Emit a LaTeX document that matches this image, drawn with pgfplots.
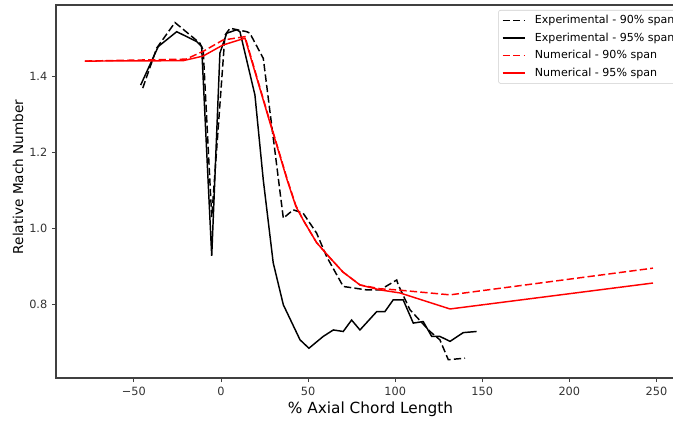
\documentclass[border=0pt]{standalone}
\usepackage{fontspec}
\setmainfont{DejaVu Sans}
\usepackage{pgfplots}
\pgfplotsset{compat=1.18}
\begin{document}
\begin{tikzpicture}[x=1pt,y=1pt]
\useasboundingbox (-42,-32.25) rectangle (462.75,283.5);
\clip (-42,-32.25) rectangle (462.75,283.5);
\begin{axis}[
 at={(0,0)}, anchor=south west,
 scale only axis, width=471.75pt, height=279.75pt,
 xmin=-94.7, xmax=266.4, ymin=0.608, ymax=1.586,
 axis line style={black!75, line width=0.8pt},
 tick align=outside, xtick pos=bottom, ytick pos=left,
 major tick length=3pt,
 tick style={black!75, line width=0.6pt},
 xtick={-50,0,50,100,150,200,250},
 xticklabels={−50,0,50,100,150,200,250},
 ytick={0.8,1.0,1.2,1.4},
 yticklabels={0.8,1.0,1.2,1.4},
 ticklabel style={font=\fontsize{8.5}{10}\selectfont, text=black!80},
 xlabel={\% Axial Chord Length},
 ylabel={Relative Mach Number},
 xlabel style={font=\fontsize{11.5}{13}\selectfont, at={(axis description cs:0.5,0)}, anchor=center, yshift=-23.25pt},
 ylabel style={font=\fontsize{10.2}{12}\selectfont, at={(axis description cs:-0.0604,0.539)}, anchor=center},
 legend style={at={(1,1)}, anchor=north east, xshift=-4pt, yshift=-3.75pt,
   font=\fontsize{8.3}{9.5}\selectfont, draw=black!20, rounded corners=1.5pt,
   inner xsep=2.5pt, inner ysep=2.5pt, row sep=3pt, column sep=6pt,
   nodes={inner sep=1.2pt}},
 legend cell align=left,
 legend image code/.code={\draw[#1] (0pt,0pt) -- (16.5pt,0pt);},
]
% Experimental 90% span
\addplot[black, line width=1.1pt, dash pattern=on 5.5pt off 2.4pt] coordinates {
(-44.9,1.368) (-36.9,1.473) (-26.4,1.540) (-12.1,1.486) (-10.2,1.468) (-5.3,1.030)
(2.3,1.507) (5.2,1.525) (14.8,1.516) (16.6,1.512) (24.3,1.446) (35.8,1.027)
(41.5,1.049) (47.2,1.040) (54.9,0.988) (60.7,0.926) (70.2,0.848) (83.6,0.839)
(91.3,0.839) (100.9,0.865) (101.8,0.852) (108.5,0.787) (120,0.730) (125.7,0.708)
(130.5,0.656) (140.1,0.660)
};
\addlegendentry{Experimental - 90\% span}
% Experimental 95% span
\addplot[black, line width=1.1pt] coordinates {
(-46.1,1.376) (-36.0,1.477) (-25.4,1.516) (-13.9,1.490) (-11.1,1.477) (-5.3,0.928)
(-0.6,1.460) (3.3,1.512) (9.0,1.521) (10.9,1.516) (19.5,1.350) (24.3,1.127)
(30.0,0.910) (35.8,0.800) (45.4,0.708) (50.5,0.686) (58.7,0.717) (64.5,0.734)
(70.2,0.730) (75.0,0.760) (79.8,0.734) (89.4,0.782) (94.1,0.782) (98.9,0.813)
(104.6,0.813) (110.4,0.752) (116.1,0.756) (121.0,0.717) (125.7,0.717) (131.5,0.704)
(139.1,0.727) (146.8,0.730)
};
\addlegendentry{Experimental - 95\% span}
% Numerical 90% span
\addplot[red, line width=1.1pt, dash pattern=on 5.5pt off 2.4pt] coordinates {
(-78.1,1.439) (-20.1,1.444) (-10.0,1.465) (1.1,1.494) (13.8,1.503)
(27.5,1.290) (38.0,1.130) (43.0,1.060) (47.1,1.023) (54.9,0.963) (62.6,0.923) (70.0,0.886)
(79.8,0.852) (91.3,0.842) (101,0.839) (131.5,0.826) (248,0.896)
};
\addlegendentry{Numerical - 90\% span}
% Numerical 95% span
\addplot[red, line width=1.1pt] coordinates {
(-78.1,1.439) (-21.8,1.440) (-10.3,1.452) (1.1,1.481) (13.8,1.499)
(27.5,1.287) (38.0,1.127) (43.0,1.058) (47.1,1.023) (54.9,0.963) (62.6,0.923) (70.0,0.886)
(79.8,0.852) (91.3,0.839) (102.8,0.831) (131.5,0.789) (248,0.857)
};
\addlegendentry{Numerical - 95\% span}
\end{axis}
\end{tikzpicture}
\end{document}
